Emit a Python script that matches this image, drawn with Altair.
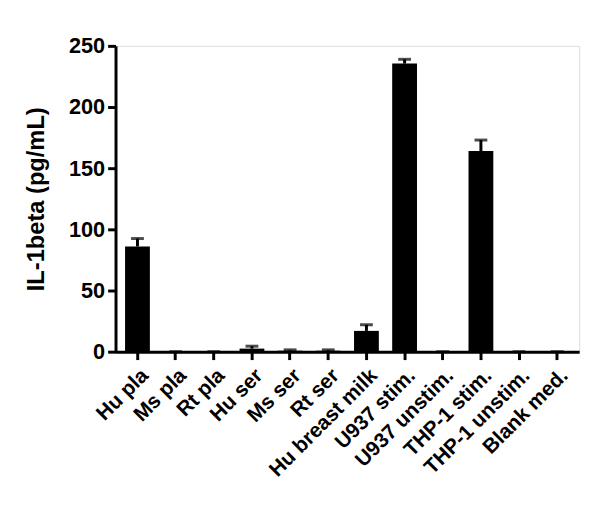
import altair as alt
import pandas as pd

categories = ["Hu pla", "Ms pla", "Rt pla", "Hu ser", "Ms ser", "Rt ser",
              "Hu breast milk", "U937 stim.", "U937 unstim.", "THP-1 stim.",
              "THP-1 unstim.", "Blank med."]
means = [86, 0, 0, 2.5, 0.8, 0.8, 17, 235.5, 0, 164, 0, 0]
errors = [6.5, 0, 0, 2, 0.7, 0.7, 5, 3.5, 0, 9, 0, 0]

df = pd.DataFrame({"cat": categories, "mean": means, "err": errors})
df["top"] = df["mean"] + df["err"]

FONT = "Liberation Sans"

x = alt.X("cat:N", sort=categories, title=None,
          scale=alt.Scale(paddingInner=0.35, paddingOuter=0.25),
          axis=alt.Axis(labelAngle=-45, labelFont=FONT, labelFontSize=21,
                        labelFontWeight="bold", labelColor="black",
                        domainColor="black", domainWidth=3, tickColor="black",
                        tickWidth=3, tickSize=8, labelPadding=5))
y = alt.Y("mean:Q", title="IL-1beta (pg/mL)",
          scale=alt.Scale(domain=[0, 250], nice=False),
          axis=alt.Axis(values=[0, 50, 100, 150, 200, 250], grid=False,
                        labelFont=FONT, labelFontSize=22, labelFontWeight="bold",
                        labelColor="black", titleFont=FONT, titleFontSize=24,
                        titleFontWeight="bold", titleColor="black",
                        domainColor="black", domainWidth=3, tickColor="black",
                        tickWidth=3, tickSize=8, titlePadding=20, labelPadding=3))

base = alt.Chart(df)
bars = base.mark_bar(color="black").encode(x=x, y=y)
stems = base.mark_rule(color="black", strokeWidth=3).encode(
    x=alt.X("cat:N", sort=categories), y="mean:Q", y2="top:Q")
caps = base.mark_tick(color="black", thickness=3, size=13, orient="horizontal").encode(
    x=alt.X("cat:N", sort=categories), y="top:Q")

chart = alt.layer(bars, stems, caps).properties(
    width=470, height=310,
    autosize=alt.AutoSizeParams(type="none"),
    padding={"left": 109, "top": 35, "right": 13, "bottom": 150},
).configure_view(stroke=None).configure(background="white")

chart.save("out.html", embed_options={"renderer": "svg", "actions": False})
